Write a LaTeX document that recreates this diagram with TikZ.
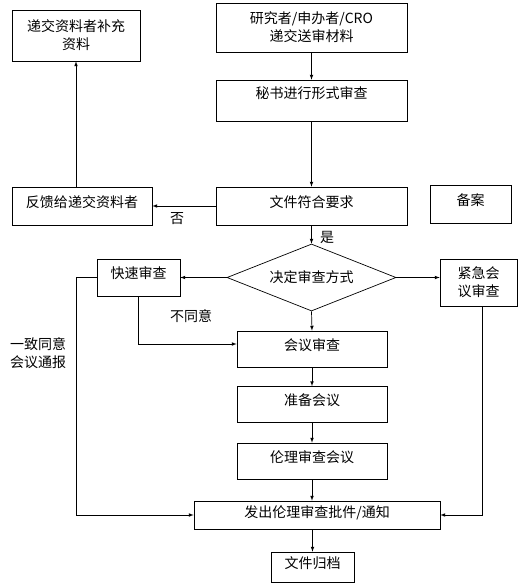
\documentclass[tikz,border=0pt]{standalone}
\usepackage{fontspec}
\setmainfont{Noto Sans CJK SC}
\usetikzlibrary{arrows}
\usetikzlibrary{shapes.geometric}

\begin{document}
\begin{tikzpicture}[x=1bp,y=-1bp,line width=0.7bp,
    font=\fontsize{14bp}{18bp}\selectfont,
    box/.style={draw=black,rectangle,inner sep=0pt,text height=12bp,text depth=10bp},
    tallbox/.style={draw=black,rectangle,inner sep=0pt,align=center},
    flow/.style={-latex}]
	\useasboundingbox (0,0) rectangle (526,587);
	\node[tallbox,minimum width=191bp,minimum height=49bp] (submit) at (311.5,27.5) {研究者/申办者/CRO\\递交送审材料};
	\node[box,text depth=16bp,minimum width=191bp,minimum height=41bp] (formal) at (311.5,100.5) {秘书进行形式审查};
	\node[box,minimum width=191bp,minimum height=38bp] (meets) at (311.5,206) {文件符合要求};
	\node[tallbox,minimum width=128bp,minimum height=51bp] (supplement) at (76,35.5) {递交资料者补充\\资料};
	\node[box,minimum width=140bp,minimum height=38bp] (feedback) at (82,206) {反馈给递交资料者};
	\node[box,minimum width=81bp,minimum height=38bp] (record) at (470.5,204) {备案};
	\node[diamond,draw=black,inner sep=0pt,aspect=2.5,minimum width=169bp,minimum height=67bp] (decide) at (311.5,277.5) {决定审查方式};
	\node[box,minimum width=83bp,minimum height=37bp] (fast) at (138.5,277.5) {快速审查};
	\node[tallbox,minimum width=77bp,minimum height=47bp] (urgent) at (478.5,282.5) {紧急会\\议审查};
	\foreach \n/\y/\t in {meeting/349/会议审查,prep/404.5/准备会议,ethics/461/伦理审查会议} {
		\node[box,minimum width=150bp,minimum height=36bp] (\n) at (312,\y) {\t};
	}
	\node[box,text depth=8bp,minimum width=246bp,minimum height=28bp] (issue) at (317,515) {发出伦理审查批件/通知};
	\node[box,minimum width=83bp,minimum height=30bp] (archive) at (312.5,567) {文件归档};

	\node (no) at (177,219) {否};
	\node (yes) at (327,237) {是};
	\node (disagree) at (191,316) {不同意};
	\node[align=center] (agree) at (38,353) {一致同意\\会议通报};

	\draw[flow] (submit) -- (formal);
	\draw[flow] (formal) -- (meets);
	\draw[flow] (meets.west) -- (feedback.east);
	\draw[flow] (feedback.north -| supplement.south) -- (supplement.south);
	\draw[flow] (meets) -- (decide);
	\draw[flow] (decide.west) -- (fast.east);
	\draw[flow] (decide.east) -- (decide.east -| urgent.west);
	\draw[flow] (decide.south) -- (meeting.north);
	\draw[flow] (fast.south) |- ([yshift=5bp]meeting.west);
	\draw[flow] (fast.west) -- +(-20,0) |- (issue.west);
	\draw[flow] ([xshift=4bp]urgent.south) |- (issue.east);
	\draw[flow] (meeting) -- (prep);
	\draw[flow] (prep) -- (ethics);
	\draw[flow] (ethics.south) -- (ethics.south |- issue.north);
	\draw[flow] (issue.south -| archive.north) -- (archive.north);
\end{tikzpicture}
\end{document}
